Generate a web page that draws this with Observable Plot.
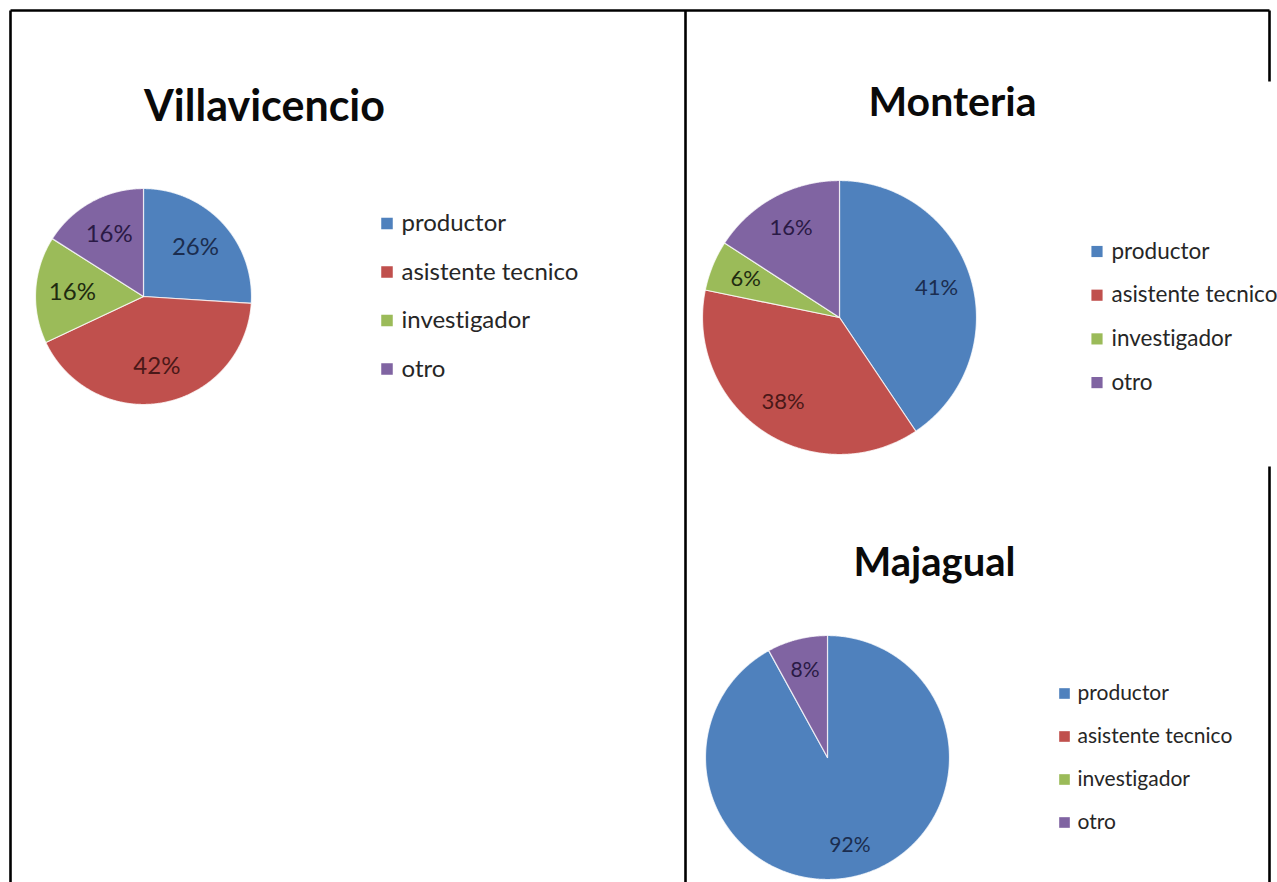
<!DOCTYPE html>
<html>
<head>
<meta charset="utf-8">
<script src="https://cdn.jsdelivr.net/npm/d3@7"></script>
<script src="https://cdn.jsdelivr.net/npm/@observablehq/plot@0.6"></script>
<style>
  html, body { margin: 0; padding: 0; background: #fff; }
  #chart svg { display: block; font-variant-ligatures: none; font-feature-settings: "liga" 0, "clig" 0; }
  #chart svg text { font-variant-ligatures: none; font-feature-settings: "liga" 0, "clig" 0; }
</style>
</head>
<body>
<div id="chart"></div>
<script>
// ---- data ----
const categories = ["productor", "asistente tecnico", "investigador", "otro"];
const cities = ["Villavicencio", "Monteria", "Majagual"];
const villavicencio = [26, 42, 16, 16];
const monteria = [41, 38, 6, 16];
const majagual = [92, 0, 0, 8];

// ---- styles / layout ----
const sliceColors = ["#4F81BD", "#C0504D", "#9BBB59", "#8064A2"];
const labelColors = ["#1b2d4f", "#4a1818", "#1f2b10", "#2a1a45"];
const W = 1277, H = 882;

const panels = [
  {city: cities[0], values: villavicencio, cx: 143, cy: 296, r: 108, labelR: 0.66, labelSize: 24,
   title: {x: 264, y: 107, size: 43}, legend: {x: 386.5, tx: 401, y0: 223, dy: 48.5, size: 24, sq: 6.5}},
  {city: cities[1], values: monteria, cx: 839, cy: 317, r: 137, labelR: 0.74, labelSize: 22,
   title: {x: 952, y: 102, size: 41}, legend: {x: 1096.5, tx: 1111, y0: 251, dy: 43.7, size: 22.5, sq: 6.3}},
  {city: cities[2], values: majagual, cx: 827, cy: 757, r: 122, labelR: 0.74, labelSize: 21,
   title: {x: 934, y: 563, size: 40}, legend: {x: 1064, tx: 1077, y0: 693, dy: 43, size: 21, sq: 6}}
];

// frame lines (layout only)
const frameLines = [
  {x1: 10, y1: 10, x2: 1269, y2: 10},
  {x1: 10, y1: 10, x2: 10, y2: H},
  {x1: 685, y1: 10, x2: 685, y2: H},
  {x1: 1269, y1: 10, x2: 1269, y2: 81},
  {x1: 1269, y1: 466, x2: 1269, y2: H}
];

// ---- build slice polygons and labels from data ----
const slicePts = [];
const labels = [];
const legendRows = [];
const titles = [];
panels.forEach((p, pi) => {
  const total = d3.sum(p.values);
  const arcs = d3.pie().sort(null).value(d => d)(p.values);
  arcs.forEach((a, ci) => {
    if (a.data <= 0) return;
    const id = `${pi}-${ci}`;
    const cat = categories[ci];
    slicePts.push({id, category: cat, x: p.cx, y: p.cy});
    const n = Math.max(2, Math.ceil((a.endAngle - a.startAngle) / 0.005));
    for (let k = 0; k <= n; k++) {
      const t = a.startAngle + (a.endAngle - a.startAngle) * k / n;
      slicePts.push({id, category: cat, x: p.cx + p.r * Math.sin(t), y: p.cy - p.r * Math.cos(t)});
    }
    const mid = (a.startAngle + a.endAngle) / 2;
    labels.push({
      ci, size: p.labelSize,
      x: p.cx + p.r * p.labelR * Math.sin(mid),
      y: p.cy - p.r * p.labelR * Math.cos(mid),
      text: `${a.data}%`
    });
  });
  categories.forEach((c, ci) => {
    legendRows.push({pi, category: c, sx: p.legend.x, tx: p.legend.tx,
      y: p.legend.y0 + ci * p.legend.dy});
  });
  titles.push({text: p.city, x: p.title.x, y: p.title.y, size: p.title.size});
});

const marks = [
  Plot.link(frameLines, {x1: "x1", y1: "y1", x2: "x2", y2: "y2", stroke: "#000", strokeWidth: 2.6}),
  Plot.line(slicePts, {x: "x", y: "y", z: "id", fill: "category", curve: "linear-closed",
    stroke: "#ffffff", strokeOpacity: 0.75, strokeWidth: 1.2, strokeLinejoin: "round"}),
  ...categories.map((c, ci) => Plot.text(labels.filter(l => l.ci === ci), {
    x: "x", y: "y", text: "text", fill: labelColors[ci],
    fontSize: d => d.size
  })),
  ...titles.map(t => Plot.text([t], {x: "x", y: "y", text: "text", fontSize: t.size,
    fontWeight: "bold", fill: "#0a0a0a"})),
  ...panels.map((p, pi) => Plot.dot(legendRows.filter(r => r.pi === pi), {
    x: "sx", y: "y", symbol: "square", r: p.legend.sq, fill: "category", stroke: null})),
  ...panels.map((p, pi) => Plot.text(legendRows.filter(r => r.pi === pi), {
    x: "tx", y: "y", text: "category", textAnchor: "start", fontSize: p.legend.size, fill: "#262626"}))
];

const chart = Plot.plot({
  width: W, height: H,
  margin: 0,
  x: {domain: [0, W], range: [0, W], axis: null},
  y: {domain: [0, H], range: [0, H], axis: null},
  color: {domain: categories, range: sliceColors},
  style: {fontFamily: "Lato, 'Open Sans', sans-serif", background: "#fff"},
  marks
});
document.getElementById("chart").appendChild(chart);
</script>
</body>
</html>
